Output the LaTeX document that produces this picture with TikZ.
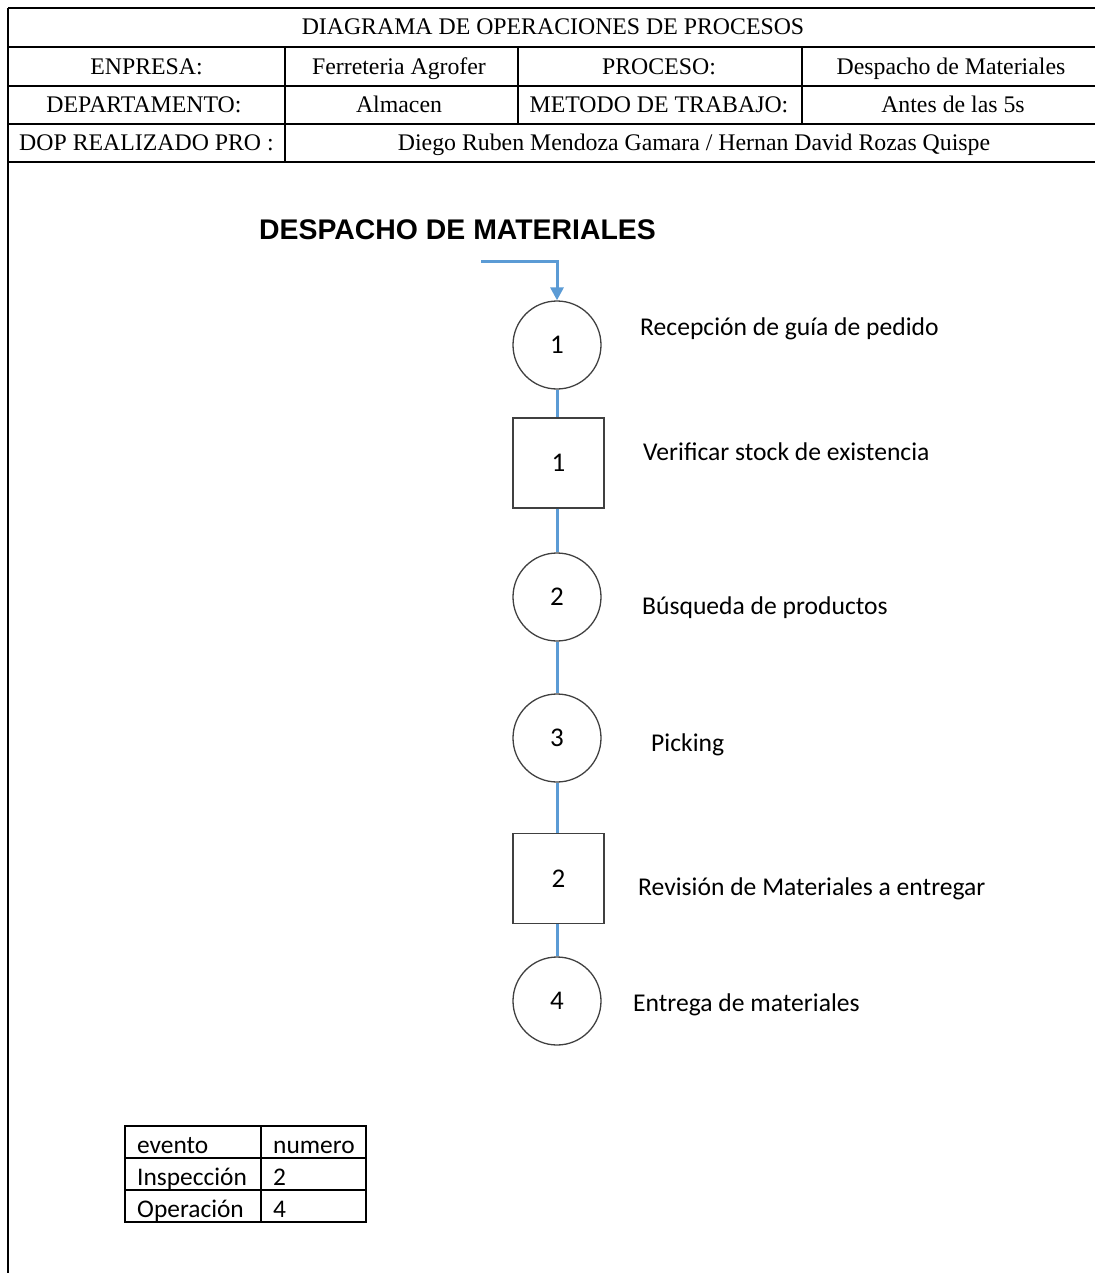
\documentclass[tikz,border=0pt]{standalone}
\usepackage{fontspec}
\setmainfont{Liberation Serif}
\newfontfamily\calib{Carlito}
\newfontfamily\arialf{Liberation Sans}
\usetikzlibrary{arrows.meta}
\definecolor{flowblue}{HTML}{5B9BD5}
\definecolor{shapegray}{HTML}{404040}
\tikzset{
  hdr/.style={font=\fontsize{23.8}{28}\selectfont, inner sep=0pt, anchor=base},
  opcircle/.style={circle, draw=shapegray, line width=1.3pt, minimum size=88pt, inner sep=0pt, font=\calib\fontsize{27}{30}\selectfont},
  inspbox/.style={rectangle, draw=shapegray, line width=1.3pt, minimum width=91pt, minimum height=90pt, inner sep=0pt, font=\calib\fontsize{27}{30}\selectfont},
  lbl/.style={font=\calib\fontsize{25.6}{30}\selectfont, inner sep=0pt, anchor=base west},
  tbl/.style={font=\calib\fontsize{25.4}{30}\selectfont, inner sep=0pt, anchor=base west},
  flow/.style={draw=flowblue, line width=3pt},
  grid/.style={line width=1.8pt, black},
}
\begin{document}
\begin{tikzpicture}[x=1pt,y=-1pt]
\useasboundingbox (0,0) rectangle (1095,1273);
% header grid
\draw[grid] (8,8) -- (1095,8);
\draw[grid] (8,47) -- (1095,47);
\draw[grid] (8,86) -- (1095,86);
\draw[grid] (8,124) -- (1095,124);
\draw[grid] (8,162) -- (1095,162);
\draw[grid] (8,8) -- (8,1273);
\draw[grid] (285,47) -- (285,162);
\draw[grid] (518,47) -- (518,124);
\draw[grid] (802,47) -- (802,124);
% header texts
\node[hdr] (h1) at (553,35) {DIAGRAMA DE OPERACIONES DE PROCESOS};
\node[hdr] (h21) at (146.5,75) {ENPRESA:};
\node[hdr] (h22) at (399,75) {Ferreteria Agrofer};
\node[hdr] (h23) at (659,75) {PROCESO:};
\node[hdr] (h24) at (951,75) {Despacho de Materiales};
\node[hdr] (h31) at (144,113) {DEPARTAMENTO:};
\node[hdr] (h32) at (399,113) {Almacen};
\node[hdr] (h33) at (659,113) {METODO DE TRABAJO:};
\node[hdr] (h34) at (953,113) {Antes de las 5s};
\node[hdr] (h41) at (146.5,151) {DOP REALIZADO PRO :};
\node[hdr] (h42) at (694,151) {Diego Ruben Mendoza Gamara / Hernan David Rozas Quispe};
% title
\node[font=\arialf\bfseries\fontsize{28.4}{33}\selectfont, inner sep=0pt, anchor=base west] (title) at (259,240) {DESPACHO DE MATERIALES};
% flow shapes
\node[opcircle] (c1) at (557,345) {1};
\node[inspbox] (s1) at (558.5,463) {1};
\node[opcircle] (c2) at (557,597) {2};
\node[opcircle] (c3) at (557,738) {3};
\node[inspbox] (s2) at (558.5,878.5) {2};
\node[opcircle] (c4) at (557,1001) {4};
% connectors
\coordinate (start) at (481,261);
\coordinate (bend) at (557,261);
\draw[flow, -{Triangle[length=13pt,width=13pt]}, line join=miter] (start) -- (bend) -- (c1.north);
\draw[flow] (c1.south) -- (s1.north -| c1.south);
\draw[flow] (s1.south -| c2.north) -- (c2.north);
\draw[flow] (c2.south) -- (c3.north);
\draw[flow] (c3.south) -- (s2.north -| c3.south);
\draw[flow] (s2.south -| c4.north) -- (c4.north);
% labels
\node[lbl] (l1) at (640,335) {Recepción de guía de pedido};
\node[lbl] (l2) at (643,460) {Verificar stock de existencia};
\node[lbl] (l3) at (642,614) {Búsqueda de productos};
\node[lbl] (l4) at (651,751) {Picking};
\node[lbl] (l5) at (638,895) {Revisión de Materiales a entregar};
\node[lbl] (l6) at (633,1011) {Entrega de materiales};
% summary table
\draw[line width=1.6pt] (125,1126) rectangle (366,1222);
\draw[line width=1.6pt] (125,1158) -- (366,1158);
\draw[line width=1.6pt] (125,1190) -- (366,1190);
\draw[line width=1.6pt] (261,1126) -- (261,1222);
\node[tbl] (t11) at (137,1153) {evento};
\node[tbl] (t12) at (273,1153) {numero};
\node[tbl] (t21) at (137,1185) {Inspección};
\node[tbl] (t22) at (273,1185) {2};
\node[tbl] (t31) at (137,1217) {Operación};
\node[tbl] (t32) at (273,1217) {4};
\end{tikzpicture}
\end{document}
